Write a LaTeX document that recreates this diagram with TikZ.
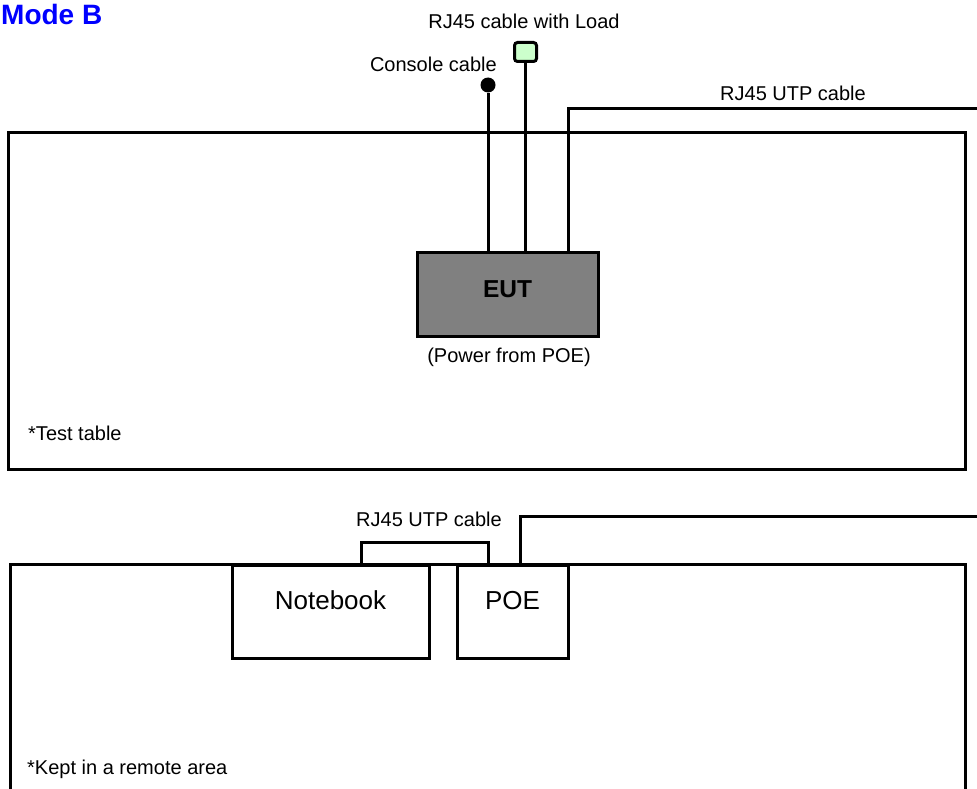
\documentclass[tikz,border=0pt]{standalone}
\usepackage{fontspec}
\setmainfont{Liberation Sans}
\usetikzlibrary{positioning}
\definecolor{eutgray}{HTML}{808080}
\definecolor{loadgreen}{HTML}{CCFFCC}
\definecolor{modeblue}{HTML}{0000FF}
\tikzset{
  wire/.style={line width=3pt},
  box/.style={draw, line width=3pt, rectangle, outer sep=0pt, inner sep=0pt},
  lbl/.style={font=\fontsize{20}{24}\selectfont, anchor=base, inner sep=0pt},
  biglbl/.style={font=\fontsize{26}{30}\selectfont}
}
\begin{document}
\begin{tikzpicture}[x=1pt,y=-1pt]
\useasboundingbox (0,0) rectangle (977,789);
\clip (0,0) rectangle (977,789);
% title
\node[font=\bfseries\fontsize{28}{32}\selectfont, text=modeblue, anchor=base west, inner sep=0pt] (title) at (1,25) {Mode B};
% test table
\draw[wire] (8,133) rectangle (965,469);
\node[lbl, anchor=base west] (tabletxt) at (28,440) {*Test table};
% EUT and its cables
\node[box, fill=eutgray, minimum width=181pt, minimum height=84pt, font=\bfseries\fontsize{24.5}{28}\selectfont, text depth=9pt] (eut) at (507.5,294) {EUT};
\node[lbl] (eutpow) at (509,362) {(Power from POE)};
\node[circle, fill, minimum size=15pt, inner sep=0pt] (console) at (488,85) {};
\node[box, fill=loadgreen, rounded corners=3pt, minimum width=22pt, minimum height=19pt] (load) at (525.5,52) {};
\coordinate (utpbend) at (568,109);
\coordinate (utpend) at (985,109);
\draw[wire] (console) -- (console |- eut.north);
\draw[wire] (load.south) -- (load.south |- eut.north);
\draw[wire] (utpbend |- eut.north) |- (utpend);
\node[lbl] (loadtxt) at (524,29) {RJ45 cable with Load};
\node[lbl, anchor=base east] (consoletxt) at (497,72) {Console cable};
\node[lbl] (utptxt) at (793,101) {RJ45 UTP cable};
% remote area
\draw[wire] (10,564) rectangle (965,820);
\node[box, fill=white, minimum width=197pt, minimum height=93pt, biglbl, text depth=22pt] (notebook) at (330.5,611.5) {Notebook};
\node[box, fill=white, minimum width=111pt, minimum height=93pt, biglbl, text depth=22pt] (poe) at (512.5,611.5) {POE};
\coordinate (nbport) at (361,565);
\coordinate (poeport) at (488,565);
\coordinate (poeout) at (520,565);
\coordinate (utpend2) at (985,516);
\draw[wire] (nbport) -- ++(0,-23) -| (poeport);
\draw[wire] (poeout) |- (utpend2);
\node[lbl] (utptxt2) at (429,526) {RJ45 UTP cable};
\node[lbl, anchor=base west] (remotetxt) at (27,774) {*Kept in a remote area};
\end{tikzpicture}
\end{document}
